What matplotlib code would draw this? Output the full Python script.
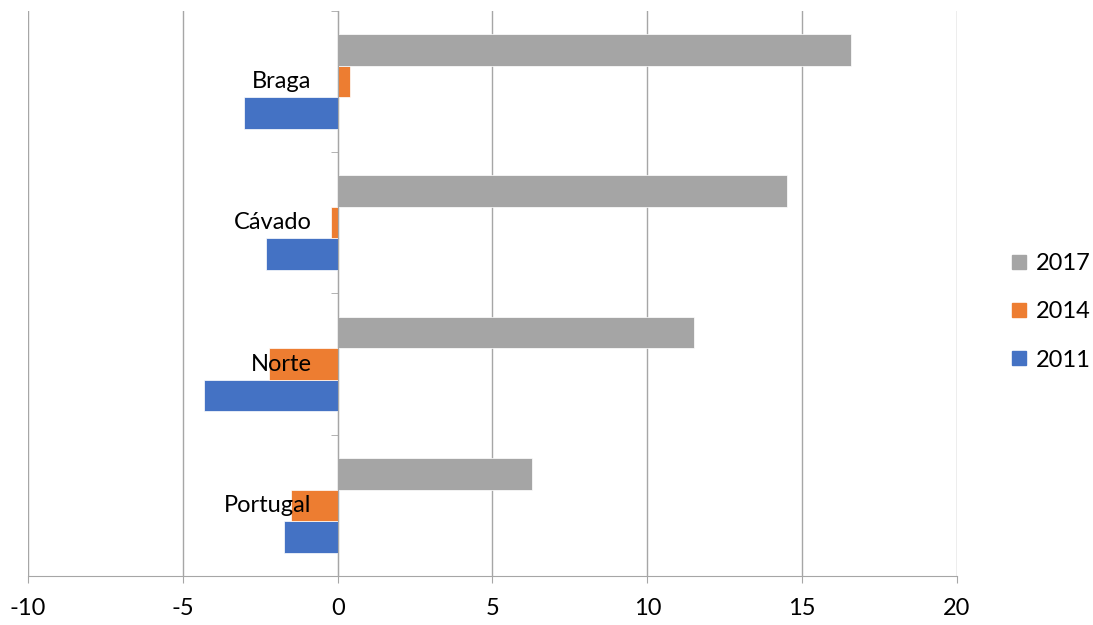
import matplotlib
matplotlib.use("Agg")
import matplotlib.pyplot as plt
from matplotlib.lines import Line2D
from matplotlib.transforms import offset_copy
import numpy as np

# Data
regions = ["Portugal", "Norte", "Cávado", "Braga"]
years = ["2011", "2014", "2017"]
values_2011 = [-1.72, -4.32, -2.33, -3.02]
values_2014 = [-1.51, -2.22, -0.20, 0.40]
values_2017 = [6.27, 11.5, 14.5, 16.58]
x_ticks = [-10, -5, 0, 5, 10, 15, 20]

colors = {"2011": "#4472C4", "2014": "#ED7D31", "2017": "#A5A5A5"}
grid_color = "#A6A6A6"

plt.rcParams["font.family"] = ["Lato", "DejaVu Sans"]
fs = 17

fig = plt.figure(figsize=(10.93, 6.25), dpi=100)
ax = fig.add_axes([28 / 1093, 1 - 576 / 625, (957 - 28) / 1093, (576 - 10.7) / 625])

y = np.arange(len(regions))
h = 0.223
series = [("2011", values_2011, -h), ("2014", values_2014, 0.0), ("2017", values_2017, h)]
for name, vals, off in series:
    ax.barh(y + off, vals, height=h, color=colors[name], edgecolor="white",
            linewidth=0.5, zorder=3)

ax.set_xlim(-10, 20)
ax.set_ylim(-0.5, len(regions) - 0.5)
ax.set_xticks(x_ticks)
ax.set_xticklabels([str(t) for t in x_ticks], fontsize=fs)
ax.xaxis.grid(True, color=grid_color, linewidth=1, zorder=0)
ax.set_axisbelow(True)

# vertical axis sits at zero, with boundary ticks between categories
for s in ("top", "right"):
    ax.spines[s].set_visible(False)
ax.spines["left"].set_position(("data", 0))
ax.spines["left"].set_color(grid_color)
ax.spines["left"].set_zorder(4)
ax.spines["bottom"].set_color(grid_color)
ax.set_yticks([])
ax.set_yticks(np.arange(len(regions) + 1) - 0.5, minor=True)
ax.tick_params(axis="y", which="minor", length=5, color=grid_color, direction="out")
ax.tick_params(axis="x", length=5, color=grid_color, pad=11, labelcolor="black")

# category labels next to the zero axis
trans = offset_copy(ax.transData, fig=fig, x=-26, y=0, units="dots")
for yi, name in zip(y, regions):
    ax.text(0, yi, name, transform=trans, ha="right", va="center",
            fontsize=fs, color="black", zorder=6)

handles = [Line2D([], [], marker="s", linestyle="none", markersize=10,
                  markerfacecolor=colors[n], markeredgecolor=colors[n])
           for n in ["2017", "2014", "2011"]]
fig.legend(handles, ["2017", "2014", "2011"], loc="center left",
           bbox_to_anchor=(991 / 1093, 1 - 312 / 625), frameon=False,
           fontsize=fs, labelspacing=1.15, handletextpad=0.2, handlelength=1.0,
           borderpad=0.2)

fig.savefig("out.png", dpi=100)
